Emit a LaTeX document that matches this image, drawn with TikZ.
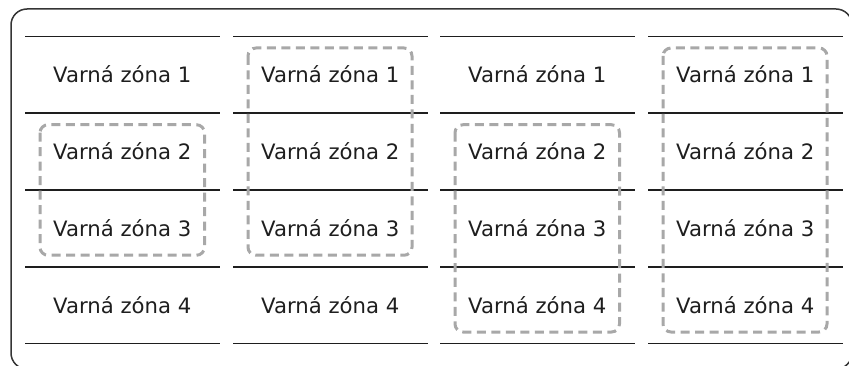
\documentclass[tikz,border=0pt]{standalone}
\usepackage{fontspec}
\setmainfont{DejaVu Sans}
\definecolor{ink}{HTML}{1E1E1E}
\definecolor{dash}{HTML}{A8A8A8}
\begin{document}
\begin{tikzpicture}[x=1pt,y=-1pt,
  rowline/.style={draw=ink,line width=1.8pt},
  zonebox/.style={draw=dash,line width=3pt,rounded corners=8pt,dash pattern=on 9pt off 5.5pt},
  outerframe/.style={draw=ink!90,line width=1.5pt,rounded corners=16pt},
  zonetext/.style={anchor=base,inner sep=0pt,text=ink,font=\fontsize{21.2}{25}\selectfont}]
\useasboundingbox (0,0) rectangle (849,366);
\draw[outerframe] (11,9) rectangle (852,369);
% columns
\foreach \c/\x in {1/25,2/233,3/440,4/648}{
  \foreach \r in {0,...,4}{
    \draw[rowline] (\x,36.5+76.75*\r) -- ++(194.5,0);
  }
  \foreach \r in {1,...,4}{
    \node[zonetext] (t\c\r) at (\x+97.25,36.5+76.75*\r-38.375+8) {Varná zóna \r};
  }
}
% dashed groups
\draw[zonebox] (40,124.75) rectangle (204.5,255.25);
\draw[zonebox] (248,48) rectangle (412,255.25);
\draw[zonebox] (455,124.75) rectangle (619.5,332);
\draw[zonebox] (663,48) rectangle (827,332);
\end{tikzpicture}
\end{document}
